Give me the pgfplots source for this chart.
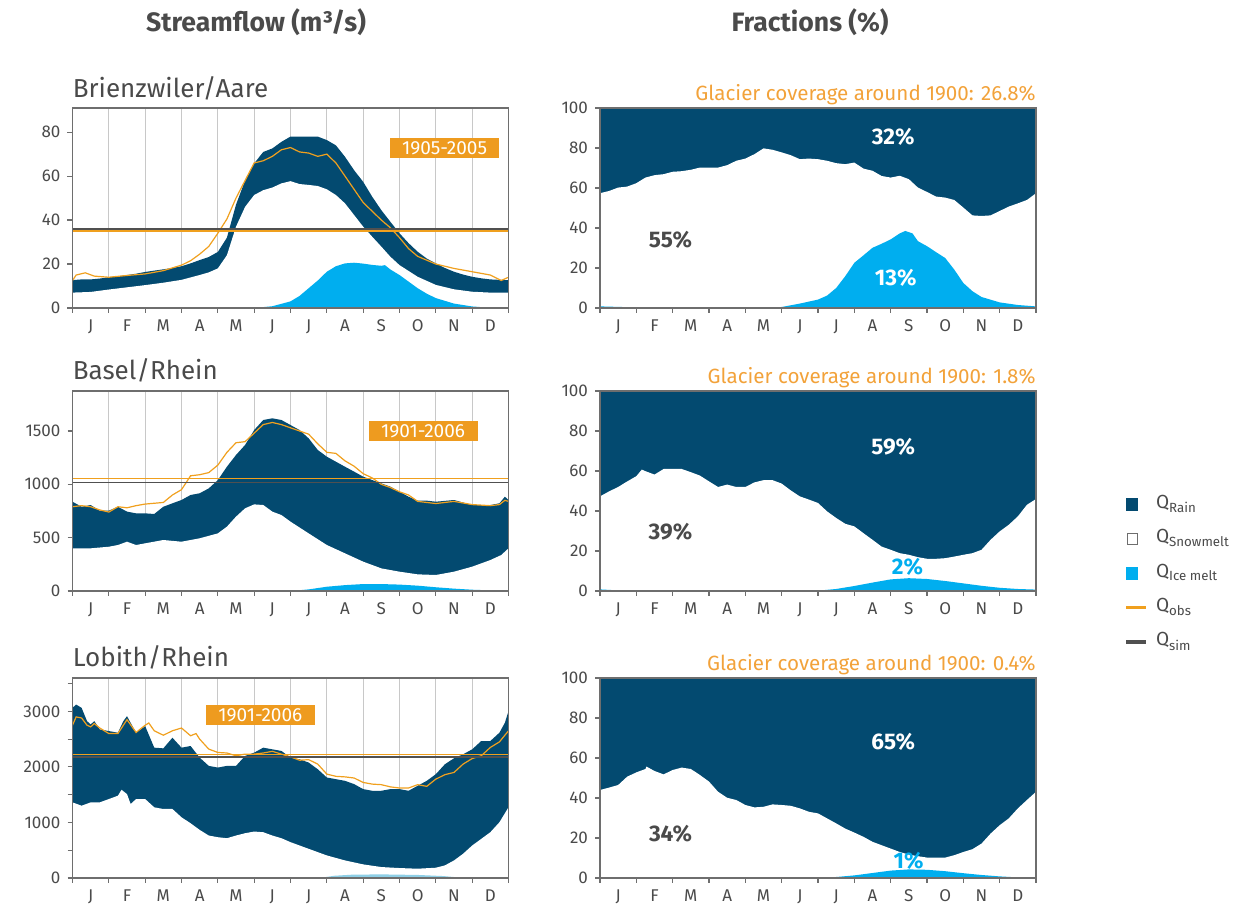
\documentclass[border=0pt]{standalone}
\usepackage{fontspec}
\setmainfont{Fira Sans}
\usepackage{pgfplots}
\pgfplotsset{compat=1.18}
\definecolor{rain}{HTML}{034A70}
\definecolor{ice}{HTML}{00AEEF}
\definecolor{icepale}{HTML}{8ECFE6}
\definecolor{obs}{HTML}{F0A01E}
\definecolor{legorange}{RGB}{240,160,30}
\definecolor{boxor}{HTML}{EE9B1F}
\definecolor{glac}{HTML}{F2A23A}
\definecolor{txt}{HTML}{4A4A4A}
\definecolor{gridc}{HTML}{C8C8C8}
\definecolor{simc}{HTML}{505050}
\definecolor{axc}{HTML}{6E6E6E}
\tikzset{
  yearbox/.style={fill=boxor, text=white, inner sep=0pt, minimum width=54.5pt, minimum height=10pt,
    font=\fontsize{9.5}{11}\selectfont},
  pct/.style={font=\bfseries\fontsize{11.3}{13}\selectfont},
}
\pgfplotsset{
  base/.style={scale only axis, width=218pt, height=100pt, anchor=south west,
    xmin=0, xmax=12, ymin=0,
    xtick={0,...,12}, xticklabels={J,F,M,A,M,J,J,A,S,O,N,D},
    x tick label as interval,
    tick pos=left, tick align=outside,
    major tick length=2.5pt, minor tick length=2.5pt,
    axis on top,
    axis line style={axc, line width=0.6pt},
    tick style={axc, line width=0.6pt},
    tick label style={font=\fontsize{8.5}{10}\selectfont, text=txt},
    /pgf/number format/assume math mode=true,
    /pgf/number format/1000 sep={}},
  station/.style={title={#1}, title style={at={(0,1)}, anchor=base west, yshift=-0.5pt, inner sep=0pt,
    font=\fontsize{13}{15}\selectfont, text=txt}},
  glacier/.style={title={#1}, title style={at={(1,1)}, anchor=base east, yshift=-2.5pt, inner sep=0pt,
    font=\fontsize{10.3}{12}\selectfont, text=glac}},
}
\begin{document}
\begin{tikzpicture}
\path[use as bounding box] (0,0) rectangle (628pt,457pt);
\node[font=\bfseries\fontsize{13.3}{15}\selectfont, text=txt, anchor=base] at (128pt,441pt) {Streamflow (m³/s)};
\node[font=\bfseries\fontsize{13.3}{15}\selectfont, text=txt, anchor=base] at (405pt,441pt) {Fractions (\%)};

% ---------- Row 1 left: Brienzwiler/Aare ----------
\begin{axis}[base, station={Brienzwiler/Aare}, at={(36.25pt,303pt)}, ymax=91, ytick={0,20,...,80}]
\addplot[gridc, line width=0.6pt, ycomb, no marks, forget plot] coordinates {(1,91)(2,91)(3,91)(4,91)(5,91)(6,91)(7,91)(8,91)(9,91)(10,91)(11,91)};
\addplot[draw=none, fill=rain, forget plot] coordinates {(0,12.7)(0.25,13)(0.5,13)(0.75,13.4)(1,14)(1.25,14.4)(1.5,15)(1.75,15.6)(2,16.4)(2.25,17)(2.5,17.6)(2.75,18.2)(3,19)(3.25,20.3)(3.5,21.8)(3.75,23.2)(4,25.5)(4.25,32)(4.5,47)(4.75,58)(5,65.8)(5.25,71)(5.5,72.6)(5.75,75.6)(6,78)(6.25,78)(6.5,78)(6.75,78)(7,76.4)(7.25,74)(7.5,68.8)(7.75,62.7)(8,57.4)(8.25,50.6)(8.5,44.5)(8.75,39.2)(9,34)(9.25,29.5)(9.5,25.6)(9.75,22.5)(10,20.3)(10.25,18.2)(10.5,16.5)(10.75,15.2)(11,14.2)(11.25,13.5)(11.5,13)(11.75,12.8)(12,12.7)} \closedcycle;
\addplot[draw=none, fill=white, forget plot] coordinates {(0,7)(0.5,7.3)(1,8.4)(1.5,9.4)(2,10.4)(2.5,11.5)(3,12.8)(3.5,15)(3.75,16.2)(4,18)(4.25,24)(4.5,37)(4.75,46)(5,51.4)(5.25,53.6)(5.5,54.8)(5.75,56.7)(6,57.7)(6.25,56.4)(6.5,56)(6.75,55.5)(7,54)(7.25,51.4)(7.5,47.6)(7.75,42.3)(8,37)(8.25,32.4)(8.5,27.9)(8.75,23.3)(9,19.5)(9.5,14.2)(10,10.5)(10.5,8.5)(11,7.4)(11.5,7)(12,7)} \closedcycle;
\addplot[draw=none, fill=ice, forget plot] coordinates {(0,0)(5,0)(5.5,0.8)(6,3)(6.25,5.5)(6.5,9)(6.75,12.5)(7,16.5)(7.25,19)(7.5,20.3)(7.75,20.6)(8,20.2)(8.25,19.6)(8.5,19.2)(8.6,19.5)(8.75,17.5)(9,15)(9.25,12)(9.5,9)(9.75,6.5)(10,4.5)(10.5,2)(11,0.7)(11.5,0.1)(12,0)} \closedcycle;
\addplot[obs, line width=0.6pt, forget plot] coordinates {(0,12.5)(0.1,15)(0.35,16)(0.6,14.5)(1,14)(1.5,14.8)(2,15.5)(2.5,17)(3,19.5)(3.25,21.5)(3.5,24.5)(3.75,28)(4,34)(4.25,40.5)(4.5,50)(4.75,58)(5,66)(5.25,67)(5.5,69)(5.75,72)(6,73)(6.25,71)(6.5,70.5)(6.75,69)(7,70)(7.25,66)(7.5,60)(7.75,54)(8,48)(8.25,44)(8.5,40)(8.75,36.5)(9,32)(9.25,27)(9.5,23.5)(10,20)(10.5,18)(11,16.5)(11.5,15)(11.8,12.5)(12,14)};
\addplot[obs, line width=0.7pt, forget plot] coordinates {(0,35)(12,35)};
\addplot[simc, line width=0.7pt, forget plot] coordinates {(0,35.9)(12,35.9)};
\node[yearbox] at (axis cs:10.24,72.7) {1905-2005};
\end{axis}

% ---------- Row 1 right ----------
\begin{axis}[base, glacier={Glacier coverage around 1900: 26.8\%}, at={(300pt,303pt)}, ymax=100, ytick={0,20,...,100}]
\addplot[draw=none, fill=rain, forget plot] coordinates {(0,100)(12,100)} \closedcycle;
\addplot[draw=none, fill=white, forget plot] coordinates {(0,57.4)(0.25,58.5)(0.5,60.2)(0.75,60.7)(1,62.4)(1.25,65.2)(1.5,66.4)(1.75,66.9)(2,68.1)(2.25,68.4)(2.5,69.1)(2.75,70.2)(3,70.2)(3.25,70.2)(3.5,71.4)(3.75,73.6)(4,74.7)(4.25,76.9)(4.5,79.8)(4.75,79.1)(5,77.8)(5.25,76.4)(5.5,74.4)(5.75,74.7)(6,74.4)(6.25,73.6)(6.5,72.4)(6.75,71.9)(7,72.7)(7.25,69.7)(7.5,68.6)(7.75,66)(8,65.2)(8.25,66.1)(8.5,64.4)(8.75,60.2)(9,58)(9.25,55.7)(9.5,55.2)(9.75,54)(10,50.2)(10.25,46.3)(10.5,46)(10.75,46.3)(11,48.5)(11.25,50.7)(11.5,52.3)(11.75,54)(12,57.4)} \closedcycle;
\addplot[draw=none, fill=ice, forget plot] coordinates {(0,0.8)(1,0.3)(2,0)(4.5,0)(5,0.5)(5.5,2.2)(6,4.2)(6.25,6.2)(6.5,10)(6.75,15.9)(7,22.6)(7.25,26.3)(7.5,30.1)(7.75,32.1)(8,34.3)(8.25,37.3)(8.4,38.5)(8.6,37.3)(8.75,33.4)(9,30.9)(9.25,27.9)(9.5,25)(9.75,19.2)(10,12.5)(10.25,8.4)(10.5,5.5)(11,2.8)(11.5,1.5)(12,0.8)} \closedcycle;
\node[pct, text=white] at (axis cs:8.07,85.8) {32\%};
\node[pct, text=txt] at (axis cs:1.94,34) {55\%};
\node[pct, text=white] at (axis cs:8.14,15) {13\%};
\end{axis}

% ---------- Row 2 left: Basel/Rhein ----------
\begin{axis}[base, station={Basel/Rhein}, at={(36.25pt,161.5pt)}, ymax=1875, ytick={0,500,1000,1500}]
\addplot[gridc, line width=0.6pt, ycomb, no marks, forget plot] coordinates {(1,1875)(2,1875)(3,1875)(4,1875)(5,1875)(6,1875)(7,1875)(8,1875)(9,1875)(10,1875)(11,1875)};
\addplot[draw=none, fill=rain, forget plot] coordinates {(0,837)(0.25,790)(0.5,806)(0.75,753)(1,753)(1.25,790)(1.5,744)(1.75,728)(2,728)(2.25,722)(2.5,790)(2.75,822)(3,853)(3.25,900)(3.5,916)(3.75,962)(4,1040)(4.25,1165)(4.5,1275)(4.75,1369)(5,1509)(5.25,1603)(5.5,1619)(5.75,1603)(6,1556)(6.25,1509)(6.5,1431)(6.75,1322)(7,1259)(7.25,1212)(7.5,1165)(7.75,1119)(8,1072)(8.25,1040)(8.5,1009)(8.75,978)(9,931)(9.25,884)(9.5,847)(9.75,847)(10,837)(10.5,853)(11,806)(11.5,806)(11.75,822)(11.9,884)(12,853)} \closedcycle;
\addplot[draw=none, fill=white, forget plot] coordinates {(0,400)(0.5,400)(1,415)(1.25,431)(1.5,462)(1.75,431)(2,447)(2.5,478)(3,462)(3.5,494)(4,540)(4.25,603)(4.5,697)(4.75,775)(5,812)(5.25,806)(5.5,744)(5.75,712)(6,650)(6.5,540)(7,431)(7.5,353)(8,275)(8.5,212)(9,181)(9.5,156)(10,150)(10.5,181)(11,228)(11.5,290)(11.8,337)(12,400)} \closedcycle;
\addplot[draw=none, fill=ice, forget plot] coordinates {(0,0)(6,0)(6.5,15)(7,40)(7.5,55)(8,65)(8.5,65)(9,60)(9.5,50)(10,35)(10.5,22)(11,12)(11.5,6)(12,3)} \closedcycle;
\addplot[obs, line width=0.6pt, forget plot] coordinates {(0,790)(0.25,800)(0.5,790)(0.75,760)(1,740)(1.25,790)(1.5,780)(1.75,800)(2,815)(2.5,830)(2.75,900)(3,950)(3.25,1080)(3.5,1090)(3.75,1110)(4,1180)(4.25,1300)(4.5,1390)(4.75,1400)(5,1480)(5.25,1560)(5.5,1580)(5.75,1560)(6,1530)(6.25,1500)(6.5,1470)(6.75,1380)(7,1300)(7.25,1290)(7.5,1220)(7.75,1170)(8,1100)(8.25,1060)(8.5,1000)(8.75,970)(9,930)(9.25,900)(9.5,840)(10,820)(10.5,840)(11,810)(11.5,800)(11.75,810)(11.9,850)(12,840)};
\addplot[obs, line width=0.7pt, forget plot] coordinates {(0,1053)(12,1053)};
\addplot[simc, line width=0.7pt, forget plot] coordinates {(0,1019)(12,1019)};
\node[yearbox] at (axis cs:9.65,1500) {1901-2006};
\end{axis}

% ---------- Row 2 right ----------
\begin{axis}[base, glacier={Glacier coverage around 1900: 1.8\%}, at={(300pt,161.5pt)}, ymax=100, ytick={0,20,...,100},
  legend style={at={(1.206,0.49)}, anchor=north west, draw=none, fill=none, inner sep=0pt, row sep=6.2pt, column sep=5pt,
    font=\fontsize{9.5}{11}\selectfont, text=txt, nodes={inner sep=0pt, text height=7.5pt, text depth=3.5pt}},
  legend cell align=left]
\addlegendimage{legend image code/.code={\fill[rain] (0pt,-2.9pt) rectangle (5.5pt,2.9pt);}}
\addlegendentry{Q\textsubscript{Rain}}
\addlegendimage{legend image code/.code={\draw[axc, fill=white, line width=0.5pt] (0.25pt,-2.65pt) rectangle (5.25pt,2.65pt);}}
\addlegendentry{Q\textsubscript{Snowmelt}}
\addlegendimage{legend image code/.code={\fill[ice] (0pt,-2.9pt) rectangle (5.5pt,2.9pt);}}
\addlegendentry{Q\textsubscript{Ice melt}}
\addlegendimage{legend image code/.code={\path[draw=none, fill=none] (0pt,-2.9pt) rectangle (5.5pt,2.9pt); \fill[legorange] (0pt,-0.55pt) rectangle (9.5pt,0.55pt);}}
\addlegendentry{Q\textsubscript{obs}}
\addlegendimage{legend image code/.code={\path[draw=none, fill=none] (0pt,-2.9pt) rectangle (5.5pt,2.9pt); \fill[simc] (0pt,-0.55pt) rectangle (9.5pt,0.55pt);}}
\addlegendentry{Q\textsubscript{sim}}
\addplot[draw=none, fill=rain, forget plot] coordinates {(0,100)(12,100)} \closedcycle;
\addplot[draw=none, fill=white, forget plot] coordinates {(0,47.3)(0.25,49.8)(0.5,52)(0.75,54.8)(1,57.4)(1.15,60.7)(1.25,59.9)(1.5,58.2)(1.75,61)(2,61)(2.25,61)(2.5,59.4)(2.75,57.7)(3,54.8)(3.25,52)(3.5,53.2)(3.75,52)(4,52)(4.25,54.3)(4.5,55.4)(4.75,55.4)(5,53.7)(5.25,50.3)(5.5,47.3)(5.75,45.7)(6,44)(6.25,39.8)(6.5,36.5)(6.75,33.6)(7,32.3)(7.25,28.9)(7.5,25.6)(7.75,22.2)(8,20.6)(8.25,18.9)(8.5,18.1)(8.75,16.9)(9,16.1)(9.25,16.1)(9.5,16.4)(9.75,17.2)(10,18.1)(10.25,18.9)(10.5,20.6)(10.75,25.6)(11,29.8)(11.25,33.1)(11.5,37.3)(11.75,43.1)(12,46)} \closedcycle;
\addplot[draw=none, fill=ice, forget plot] coordinates {(0,0.8)(0.5,0.3)(1,0)(5.9,0)(6.5,1)(7,2.5)(7.5,4.2)(8,5.8)(8.5,6.4)(9,6)(9.5,5)(10,3.8)(10.5,2.6)(11,1.6)(11.5,1)(12,0.7)} \closedcycle;
\node[pct, text=white] at (axis cs:8.07,72) {59\%};
\node[pct, text=txt] at (axis cs:1.94,29.8) {39\%};
\node[pct, text=ice] at (axis cs:8.46,11.9) {2\%};
\end{axis}

% ---------- Row 3 left: Lobith/Rhein ----------
\begin{axis}[base, station={Lobith/Rhein}, at={(36.25pt,18pt)}, ymax=3600, ytick={0,1000,2000,3000}, minor ytick={500,1500,2500,3500}]
\addplot[gridc, line width=0.6pt, ycomb, no marks, forget plot] coordinates {(1,3600)(2,3600)(3,3600)(4,3600)(5,3600)(6,3600)(7,3600)(8,3600)(9,3600)(10,3600)(11,3600)};
\addplot[draw=none, fill=rain, forget plot] coordinates {(0,3063)(0.1,3122)(0.25,3063)(0.4,2824)(0.5,2764)(0.6,2824)(0.75,2675)(1,2645)(1.25,2615)(1.4,2824)(1.5,2913)(1.75,2615)(2,2734)(2.25,2346)(2.5,2334)(2.75,2525)(3,2346)(3.25,2376)(3.5,2167)(3.75,2018)(4,1988)(4.25,2018)(4.5,2018)(4.75,2197)(5,2257)(5.25,2346)(5.5,2316)(5.75,2287)(6,2167)(6.25,2137)(6.5,2078)(6.75,1958)(7,1809)(7.25,1779)(7.5,1749)(7.75,1690)(8,1600)(8.25,1570)(8.5,1570)(8.75,1600)(9,1600)(9.25,1570)(9.5,1660)(9.75,1749)(10,1869)(10.25,2048)(10.5,2155)(10.75,2227)(11,2316)(11.25,2466)(11.5,2466)(11.75,2615)(11.9,2794)(12,3003)} \closedcycle;
\addplot[draw=none, fill=white, forget plot] coordinates {(0,1361)(0.25,1301)(0.5,1361)(0.75,1361)(1,1421)(1.25,1481)(1.35,1588)(1.5,1510)(1.6,1331)(1.75,1421)(2,1421)(2.25,1272)(2.5,1242)(2.75,1242)(3,1093)(3.25,985)(3.5,866)(3.75,764)(4,734)(4.25,716)(4.5,764)(4.75,806)(5,836)(5.25,824)(5.5,764)(5.75,716)(6,645)(6.5,525)(7,406)(7.5,316)(8,245)(8.5,197)(9,179)(9.5,167)(10,185)(10.25,227)(10.5,316)(10.75,436)(11,585)(11.25,704)(11.5,824)(11.75,1003)(12,1272)} \closedcycle;
\addplot[draw=none, fill=icepale, forget plot] coordinates {(0,0)(6.8,0)(7.2,40)(7.7,60)(8.5,65)(9.5,55)(10.2,35)(10.8,0)(12,0)} \closedcycle;
\addplot[obs, line width=0.6pt, forget plot] coordinates {(0,2750)(0.1,2900)(0.25,2880)(0.4,2750)(0.5,2720)(0.6,2780)(0.75,2700)(1,2600)(1.25,2600)(1.5,2850)(1.75,2620)(2,2750)(2.1,2790)(2.25,2650)(2.5,2570)(2.75,2650)(3,2700)(3.25,2560)(3.4,2600)(3.5,2500)(3.75,2320)(4,2260)(4.25,2250)(4.5,2200)(4.75,2230)(5,2230)(5.25,2250)(5.5,2280)(5.75,2230)(6,2180)(6.25,2120)(6.5,2130)(6.75,2050)(7,1870)(7.25,1830)(7.5,1820)(7.75,1800)(8,1720)(8.25,1690)(8.5,1680)(8.75,1640)(9,1620)(9.25,1620)(9.5,1680)(9.75,1650)(10,1780)(10.25,1860)(10.5,1900)(10.75,2050)(11,2150)(11.25,2200)(11.5,2350)(11.75,2450)(12,2650)};
\addplot[obs, line width=0.7pt, forget plot] coordinates {(0,2227)(12,2227)};
\addplot[simc, line width=0.7pt, forget plot] coordinates {(0,2179)(12,2179)};
\node[yearbox] at (axis cs:5.17,2935) {1901-2006};
\end{axis}

% ---------- Row 3 right ----------
\begin{axis}[base, glacier={Glacier coverage around 1900: 0.4\%}, at={(300pt,18pt)}, ymax=100, ytick={0,20,...,100}]
\addplot[draw=none, fill=rain, forget plot] coordinates {(0,100)(12,100)} \closedcycle;
\addplot[draw=none, fill=white, forget plot] coordinates {(0,44)(0.25,45.2)(0.5,46.5)(0.75,50.7)(1,52.8)(1.25,54.5)(1.28,55.7)(1.5,53.5)(1.75,51.8)(2,54)(2.25,55.2)(2.5,54.5)(2.75,51.5)(3,48.2)(3.25,43.1)(3.5,40.1)(3.75,39)(4,36.5)(4.25,35.3)(4.5,35.6)(4.75,36.8)(5,36.5)(5.25,36.1)(5.5,34.8)(5.75,33.1)(6,32.3)(6.25,29.8)(6.5,27.3)(6.75,24.7)(7,22.7)(7.25,20.6)(7.5,18.1)(7.75,16.4)(8,14.7)(8.25,13)(8.5,11.7)(8.75,10.9)(9,10.2)(9.25,10.2)(9.5,10.2)(9.75,11.4)(10,13)(10.25,14.4)(10.5,17.2)(10.75,22.2)(11,26.4)(11.25,29.8)(11.5,34.8)(11.75,39)(12,43.1)} \closedcycle;
\addplot[draw=none, fill=ice, forget plot] coordinates {(0,0)(6.1,0)(6.5,0.5)(7,1.3)(7.5,2.5)(8,3.7)(8.5,4.3)(9,4.1)(9.5,3.4)(10,2.4)(10.5,1.5)(11,0.8)(11.5,0.3)(12,0.1)} \closedcycle;
\node[pct, text=white] at (axis cs:8.07,67.9) {65\%};
\node[pct, text=txt] at (axis cs:1.94,22.2) {34\%};
\node[pct, text=ice] at (axis cs:8.49,8.4) {1\%};
\end{axis}
\end{tikzpicture}
\end{document}
